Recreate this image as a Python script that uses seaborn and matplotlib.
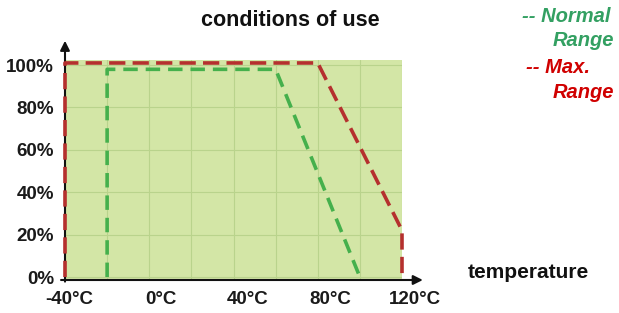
import matplotlib
matplotlib.use("Agg")
import matplotlib.pyplot as plt
import matplotlib.transforms as mtransforms
import seaborn as sns
import pandas as pd

# Data
normal_temp = [-20, -20, 60, 100]
normal_pct = [0, 98, 98, 0]
max_temp = [-40, -40, 80, 120, 120]
max_pct = [0, 101, 101, 22, 0]
xticks = [-40, 0, 40, 80, 120]
xtick_labels = ["-40°C", "0°C", "40°C", "80°C", "120°C"]
yticks = [0, 20, 40, 60, 80, 100]
ytick_labels = ["0%", "20%", "40%", "60%", "80%", "100%"]

sns.set_theme(style="white")
plt.rcParams['font.family'] = ['Liberation Sans', 'DejaVu Sans']

W, H = 619, 313
fig = plt.figure(figsize=(W / 100, H / 100), dpi=100)
ax = fig.add_axes([65 / W, 33 / H, 337 / W, 220 / H])
ax.set_facecolor("#d3e6a6")

df_n = pd.DataFrame({"t": normal_temp, "p": normal_pct})
df_m = pd.DataFrame({"t": max_temp, "p": max_pct})

sns.lineplot(data=df_n, x="t", y="p", sort=False, estimator=None, ax=ax,
             color="#45b04c", lw=2.6, linestyle=(0, (4, 2.2)), zorder=3,
             clip_on=False)
sns.lineplot(data=df_m, x="t", y="p", sort=False, estimator=None, ax=ax,
             color="#b5302e", lw=2.6, linestyle=(0, (4.5, 2.0)), zorder=6,
             clip_on=False)

ax.set_xlim(-40, 120)
ax.set_ylim(-1.4, 102.4)
ax.set_xticks(xticks)
ax.set_xticklabels(xtick_labels)
ax.set_yticks(yticks)
ax.set_yticklabels(ytick_labels)
ax.set_xticks(list(range(-40, 121, 20)), minor=True)
ax.grid(True, which="both", color="#b9d38c", lw=0.8)
ax.set_axisbelow(True)
ax.tick_params(axis="both", length=0, pad=8, labelsize=13.5)
for lab in ax.get_xticklabels() + ax.get_yticklabels():
    lab.set_fontweight("bold")
    lab.set_color("#1a1a1a")
x_offsets = [4, 12, 14, 13, 13]
for lab, dx in zip(ax.get_xticklabels(), x_offsets):
    lab.set_transform(lab.get_transform() +
                      mtransforms.ScaledTranslation(dx / 100, 0, fig.dpi_scale_trans))
ax.set_xlabel("")
ax.set_ylabel("")
for s in ax.spines.values():
    s.set_visible(False)

# axis arrows
ax.annotate("", xy=(1.07, 0), xytext=(-0.02, 0), xycoords="axes fraction",
            arrowprops=dict(arrowstyle="-|>", color="#111111", lw=1.5,
                            mutation_scale=14), annotation_clip=False, zorder=5)
ax.annotate("", xy=(0, 1.1), xytext=(0, -0.02), xycoords="axes fraction",
            arrowprops=dict(arrowstyle="-|>", color="#111111", lw=1.5,
                            mutation_scale=14), annotation_clip=False, zorder=2)

fig.text(290 / W, 1 - 20 / H, "conditions of use", ha="center", va="center",
         fontsize=15.5, fontweight="bold", color="#111111")
fig.text(468 / W, 1 - 272 / H, "temperature", ha="left", va="center",
         fontsize=15, fontweight="bold", color="#111111")

green_t = "#33a062"
red_t = "#d00000"
fig.text(610 / W, 1 - 16 / H, "-- Normal", ha="right", va="center",
         fontsize=14.5, fontweight="bold", style="italic", color=green_t)
fig.text(614 / W, 1 - 41 / H, "Range", ha="right", va="center",
         fontsize=14.5, fontweight="bold", style="italic", color=green_t)
fig.text(590 / W, 1 - 68 / H, "-- Max.", ha="right", va="center",
         fontsize=14.5, fontweight="bold", style="italic", color=red_t)
fig.text(614 / W, 1 - 92 / H, "Range", ha="right", va="center",
         fontsize=14.5, fontweight="bold", style="italic", color=red_t)

fig.savefig("out.png", dpi=100)
